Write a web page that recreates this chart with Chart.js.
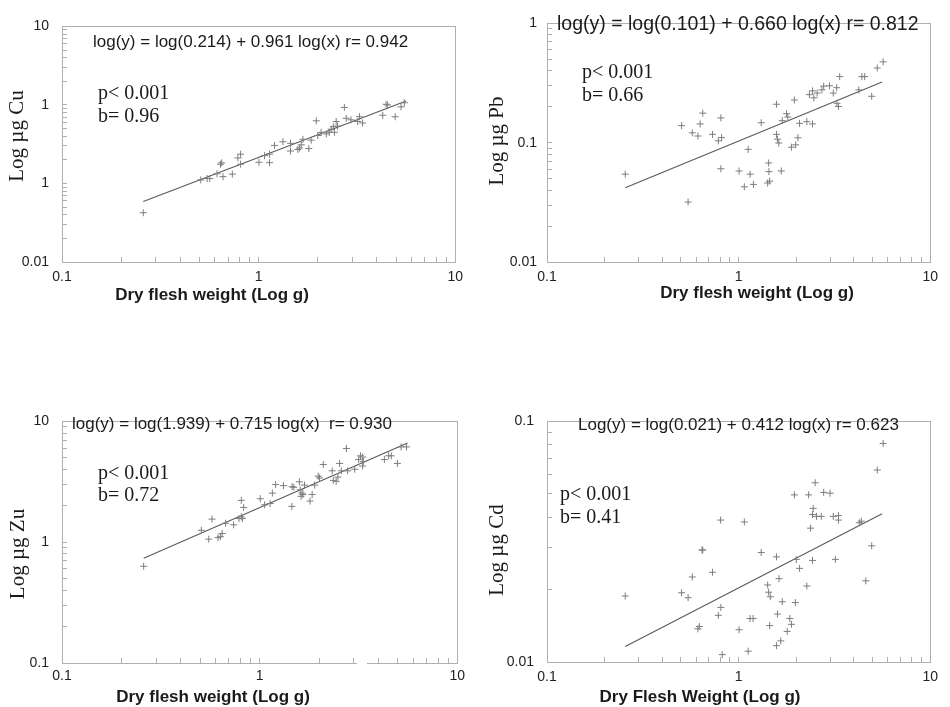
<!DOCTYPE html>
<html>
<head>
<meta charset="utf-8">
<script src="https://cdn.jsdelivr.net/npm/chart.js@4.4.1/dist/chart.umd.min.js"></script>
<style>
  body { margin: 0; background: #fff; width: 950px; height: 707px; position: relative; overflow: hidden; }
  canvas { position: absolute; }
</style>
</head>
<body>
<canvas id="cu" width="475" height="310" style="left:0;top:0"></canvas>
<canvas id="pb" width="475" height="310" style="left:475px;top:0"></canvas>
<canvas id="zn" width="475" height="312" style="left:0;top:395px"></canvas>
<canvas id="cd" width="475" height="312" style="left:475px;top:395px"></canvas>
<script>
// dry flesh weight (g) and metal content (ug)
const cuX = [0.259, 0.508, 0.547, 0.564, 0.614, 0.640, 0.649, 0.659, 0.735, 0.785, 0.810, 0.810, 1.004, 1.072, 1.137, 1.137,
  1.205, 1.329, 1.453, 1.453, 1.583, 1.615, 1.648, 1.68, 1.80, 1.851, 1.964, 2.0, 2.08, 2.21, 2.29, 2.34, 2.40, 2.43,
  2.48, 2.52, 2.73, 2.79, 2.95, 3.19, 3.26, 3.38, 4.28, 4.45, 4.53, 4.95, 5.30, 5.51];
const cuY = [0.0424, 0.111, 0.1156, 0.1156, 0.133, 0.176, 0.183, 0.122, 0.1315, 0.211, 0.236, 0.176, 0.186, 0.226, 0.184, 0.236,
  0.305, 0.340, 0.325, 0.259, 0.271, 0.283, 0.310, 0.365, 0.278, 0.356, 0.627, 0.408, 0.448, 0.427, 0.448, 0.490, 0.528, 0.448,
  0.615, 0.537, 0.929, 0.676, 0.646, 0.615, 0.707, 0.589, 0.739, 1.02, 1.0, 0.707, 0.946, 1.066];
const cuFitX = [0.259, 5.63];
const cuFitY = [0.0589, 1.125];

const pbX = [0.256, 0.504, 0.545, 0.573, 0.613, 0.630, 0.650, 0.731, 0.784, 0.808, 0.815, 0.808, 1.006, 1.071, 1.122, 1.148,
  1.195, 1.312, 1.418, 1.452, 1.435, 1.44, 1.576, 1.576, 1.595, 1.62, 1.67, 1.69, 1.78, 1.807, 1.887, 1.985, 1.954, 2.04,
  2.08, 2.27, 2.34, 2.43, 2.47, 2.43, 2.57, 2.72, 2.78, 2.98, 3.12, 3.25, 3.26, 3.32, 3.37, 4.24, 4.40, 4.55, 4.95, 5.29, 5.68];
const pbY = [0.0545, 0.139, 0.0318, 0.121, 0.1138, 0.1437, 0.177, 0.1174, 0.1038, 0.1614, 0.1103, 0.0605, 0.0579, 0.0427, 0.0879, 0.0545,
  0.0447, 0.147, 0.0459, 0.0476, 0.0676, 0.0572, 0.210, 0.1174, 0.107, 0.0994, 0.0579, 0.153, 0.175, 0.164, 0.0917, 0.0959, 0.228, 0.110,
  0.1454, 0.150, 0.2527, 0.272, 0.2377, 0.1437, 0.2606, 0.277, 0.298, 0.300, 0.2606, 0.289, 0.214, 0.201, 0.358, 0.277, 0.358, 0.358, 0.245, 0.423, 0.476];
const pbFitX = [0.256, 5.61];
const pbFitY = [0.042, 0.323];

const znX = [0.259, 0.507, 0.553, 0.574, 0.616, 0.633, 0.646, 0.673, 0.739, 0.786, 0.808, 0.818, 0.808, 0.830, 1.008, 1.06,
  1.13, 1.16, 1.205, 1.32, 1.456, 1.46, 1.49, 1.59, 1.605, 1.64, 1.62, 1.656, 1.687, 1.80, 1.845, 1.90, 1.98, 2.01, 2.10,
  2.33, 2.36, 2.44, 2.49, 2.54, 2.59, 2.75, 2.79, 3.03, 3.17, 3.24, 3.32, 3.32, 3.35, 4.28, 4.50, 4.64, 4.98, 5.20, 5.54];
const znY = [0.632, 1.255, 1.06, 1.553, 1.09, 1.11, 1.18, 1.434, 1.393, 1.57, 1.62, 1.57, 2.22, 1.94, 2.29, 2.04,
  2.09, 2.55, 3.0, 2.94, 1.98, 2.88, 2.85, 3.16, 2.71, 2.55, 2.40, 2.48, 2.97, 2.19, 2.48, 2.97, 3.52, 3.40, 4.40,
  3.90, 3.25, 3.19, 3.46, 4.49, 3.90, 5.97, 3.90, 4.02, 4.83, 5.19, 5.07, 4.27, 4.65, 4.83, 5.19, 5.19, 4.49, 6.15, 6.15];
const znFitX = [0.259, 5.61];
const znFitY = [0.736, 6.62];

const cdX = [0.256, 0.504, 0.545, 0.573, 0.613, 0.624, 0.644, 0.650, 0.731, 0.784, 0.808, 0.806, 0.821, 1.006, 1.071, 1.122,
  1.148, 1.19, 1.312, 1.418, 1.435, 1.464, 1.452, 1.576, 1.576, 1.66, 1.595, 1.626, 1.69, 1.793, 1.85, 1.887, 1.954, 1.977,
  2.0, 2.08, 2.27, 2.32, 2.375, 2.43, 2.45, 2.43, 2.55, 2.70, 2.51, 2.78, 3.0, 3.12, 3.20, 3.32, 3.32, 4.27, 4.37, 4.61,
  4.95, 5.29, 5.68];
const cdY = [0.0188, 0.0194, 0.0185, 0.02256, 0.01374, 0.01404, 0.0292, 0.0292, 0.0236, 0.01563, 0.01686, 0.0389, 0.01073, 0.01362, 0.0382, 0.01109,
  0.01516, 0.01516, 0.02853, 0.0209, 0.0195, 0.01867, 0.01417, 0.02735, 0.01169, 0.01224, 0.01582, 0.0222, 0.0178, 0.0134, 0.01516, 0.01434, 0.0495, 0.01766,
  0.0267, 0.0245, 0.0207, 0.0495, 0.0360, 0.02644, 0.0435, 0.041, 0.0403, 0.0403, 0.0556, 0.0507, 0.0503, 0.0403, 0.0267, 0.0406, 0.0389, 0.0379, 0.0385, 0.02175,
  0.0304, 0.0628, 0.081];
const cdFitX = [0.256, 5.61];
const cdFitY = [0.0116, 0.0413];

// tick labels as printed (the Cu panel really prints "1" at 0.1)
const xTickValues = [0.1, 1, 10];
const xTickLabels = ['0.1', '1', '10'];
const cuTickValues = [0.01, 0.1, 1, 10];
const cuTickLabels = ['0.01', '1', '1', '10'];
const pbTickValues = [0.01, 0.1, 1];
const pbTickLabels = ['0.01', '0.1', '1'];
const znTickValues = [0.1, 1, 10];
const znTickLabels = ['0.1', '1', '10'];
const cdTickValues = [0.01, 0.1];
const cdTickLabels = ['0.01', '0.1'];

const SANS = '"Liberation Sans", Arial, sans-serif';
const SERIF = '"Liberation Serif", "Times New Roman", serif';
const GREY = '#b0b0b0';

// minor ticks 1..9 in each decade
function decadeTicks(min, max) {
  const out = [];
  for (let e = Math.round(Math.log10(min)); e < Math.round(Math.log10(max)); e++) {
    for (let m = 1; m < 10; m++) out.push(+(m * Math.pow(10, e)).toPrecision(6));
  }
  out.push(max);
  return out;
}

function logAxis(min, max, values, labels, size, pad) {
  return {
    type: 'logarithmic',
    min: min,
    max: max,
    afterBuildTicks: s => { s.ticks = decadeTicks(min, max).map(v => ({ value: v })); },
    afterFit: s => { if (s.isHorizontal()) s.height = size; else s.width = size; },
    ticks: {
      autoSkip: false,
      maxRotation: 0,
      padding: pad,
      color: '#222',
      font: { family: SANS, size: 14 },
      callback: v => {
        const i = values.findIndex(t => Math.abs(t - v) / t < 1e-6);
        return i < 0 ? '' : labels[i];
      }
    },
    grid: { drawOnChartArea: false, drawTicks: true, tickLength: -5, color: GREY },
    border: { display: false }
  };
}

const panelText = {
  id: 'panelText',
  beforeDatasetsDraw(chart, args, opts) {
    const { ctx, chartArea: a } = chart;
    ctx.save();
    ctx.strokeStyle = GREY;
    ctx.lineWidth = 1;
    ctx.strokeRect(Math.round(a.left) + 0.5, Math.round(a.top) + 0.5, Math.round(a.right - a.left), Math.round(a.bottom - a.top));
    // break in the bottom axis line (Zn panel)
    if (opts.gap) {
      ctx.fillStyle = '#fff';
      ctx.fillRect(opts.gap[0], Math.round(a.bottom) - 2, opts.gap[1] - opts.gap[0], 5);
    }
    ctx.restore();
  },
  afterDraw(chart, args, opts) {
    const ctx = chart.ctx;
    (opts.items || []).forEach(t => {
      ctx.save();
      ctx.font = t.font;
      ctx.fillStyle = '#1a1a1a';
      ctx.textAlign = t.align || 'left';
      ctx.textBaseline = 'middle';
      ctx.translate(t.x, t.y);
      if (t.rotate) ctx.rotate(-Math.PI / 2);
      ctx.fillText(t.text, 0, 0);
      ctx.restore();
    });
  }
};

function makePanel(id, xs, ys, fitX, fitY, yMin, yMax, yVals, yLabels, box, items, gap) {
  new Chart(document.getElementById(id), {
    type: 'scatter',
    data: {
      datasets: [
        {
          data: xs.map((x, i) => ({ x: x, y: ys[i] })),
          pointStyle: 'cross',
          pointRadius: 3.5,
          borderColor: '#7d7d7d',
          borderWidth: 1
        },
        {
          type: 'line',
          data: fitX.map((x, i) => ({ x: x, y: fitY[i] })),
          borderColor: '#5a5a5a',
          borderWidth: 1.1,
          pointRadius: 0,
          fill: false
        }
      ]
    },
    options: {
      responsive: false,
      animation: false,
      layout: { padding: { left: 0, top: box.top, right: box.right, bottom: 0 } },
      scales: {
        x: logAxis(0.1, 10, xTickValues, xTickLabels, box.xh, box.xpad),
        y: logAxis(yMin, yMax, yVals, yLabels, box.yw, box.ypad)
      },
      plugins: {
        legend: { display: false },
        tooltip: { enabled: false },
        panelText: { items: items, gap: gap }
      }
    },
    plugins: [panelText]
  });
}

const EQ = '17px ' + SANS;
const PB = '20px ' + SERIF;
const YT = '21px ' + SERIF;
const XT = 'bold 17px ' + SANS;

makePanel('cu', cuX, cuY, cuFitX, cuFitY, 0.01, 10, cuTickValues, cuTickLabels,
  { top: 10, right: 19, xh: 48, yw: 62, xpad: 12, ypad: 18 }, [
    { text: 'log(y) = log(0.214) + 0.961 log(x) r= 0.942', x: 93, y: 42, font: EQ },
    { text: 'p< 0.001', x: 98, y: 94, font: PB },
    { text: 'b= 0.96', x: 98, y: 117, font: PB },
    { text: 'Log µg Cu', x: 17, y: 136, font: YT, align: 'center', rotate: true },
    { text: 'Dry flesh weight (Log g)', x: 212, y: 295, font: XT, align: 'center' }
  ]);

makePanel('pb', pbX, pbY, pbFitX, pbFitY, 0.01, 1, pbTickValues, pbTickLabels,
  { top: 11, right: 10, xh: 48, yw: 72, xpad: 12, ypad: 15 }, [
    { text: 'log(y) = log(0.101) + 0.660 log(x) r= 0.812', x: 82, y: 25, font: '19.5px ' + SANS },
    { text: 'p< 0.001', x: 107, y: 73, font: PB },
    { text: 'b= 0.66', x: 107, y: 96, font: PB },
    { text: 'Log µg Pb', x: 22, y: 141, font: YT, align: 'center', rotate: true },
    { text: 'Dry flesh weight (Log g)', x: 282, y: 293, font: XT, align: 'center' }
  ]);

makePanel('zn', znX, znY, znFitX, znFitY, 0.1, 10, znTickValues, znTickLabels,
  { top: 15, right: 17, xh: 44, yw: 62, xpad: 10, ypad: 18 }, [
    { text: 'log(y) = log(1.939) + 0.715 log(x)  r= 0.930', x: 72, y: 29, font: EQ },
    { text: 'p< 0.001', x: 98, y: 79, font: PB },
    { text: 'b= 0.72', x: 98, y: 101, font: PB },
    { text: 'Log µg Zu', x: 18, y: 159, font: YT, align: 'center', rotate: true },
    { text: 'Dry flesh weight (Log g)', x: 213, y: 302, font: XT, align: 'center' }
  ], [357, 367]);

makePanel('cd', cdX, cdY, cdFitX, cdFitY, 0.01, 0.1, cdTickValues, cdTickLabels,
  { top: 16, right: 10, xh: 45, yw: 72, xpad: 12, ypad: 18 }, [
    { text: 'Log(y) = log(0.021) + 0.412 log(x) r= 0.623', x: 103, y: 30, font: EQ },
    { text: 'p< 0.001', x: 85, y: 100, font: PB },
    { text: 'b= 0.41', x: 85, y: 123, font: PB },
    { text: 'Log µg Cd', x: 22, y: 155, font: YT, align: 'center', rotate: true },
    { text: 'Dry Flesh Weight (Log g)', x: 225, y: 302, font: XT, align: 'center' }
  ]);
</script>
</body>
</html>
